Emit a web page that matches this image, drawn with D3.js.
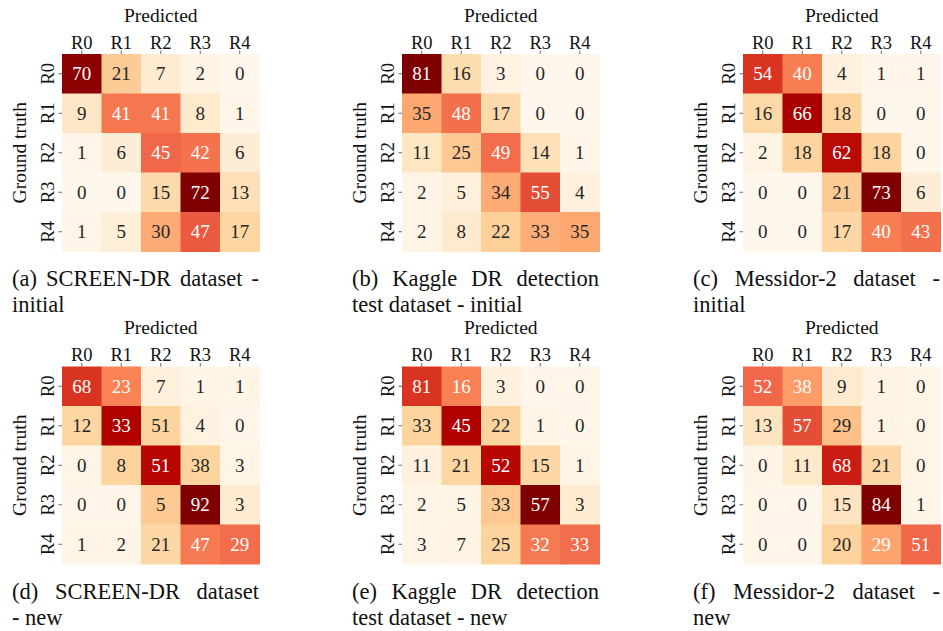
<!DOCTYPE html>
<html>
<head>
<meta charset="utf-8">
<script src="https://cdn.jsdelivr.net/npm/d3@7"></script>
<style>
  html, body { margin: 0; padding: 0; background: #ffffff; }
  svg { display: block; }
</style>
</head>
<body>
<svg id="chart" width="943" height="631"></svg>
<script>
// ---------------- data ----------------
const categories = ["R0", "R1", "R2", "R3", "R4"];
const xAxisTitle = "Predicted";
const yAxisTitle = "Ground truth";

// Displayed values (percent) per panel, rows = ground truth, cols = predicted
const valuesA = [[70,21,7,2,0],[9,41,41,8,1],[1,6,45,42,6],[0,0,15,72,13],[1,5,30,47,17]];
const valuesB = [[81,16,3,0,0],[35,48,17,0,0],[11,25,49,14,1],[2,5,34,55,4],[2,8,22,33,35]];
const valuesC = [[54,40,4,1,1],[16,66,18,0,0],[2,18,62,18,0],[0,0,21,73,6],[0,0,17,40,43]];
const valuesD = [[68,23,7,1,1],[12,33,51,4,0],[0,8,51,38,3],[0,0,5,92,3],[1,2,21,47,29]];
const valuesE = [[81,16,3,0,0],[33,45,22,1,0],[11,21,52,15,1],[2,5,33,57,3],[3,7,25,32,33]];
const valuesF = [[52,38,9,1,0],[13,57,29,1,0],[0,11,68,21,0],[0,0,15,84,1],[0,0,20,29,51]];

// Cell colour intensity (0-100)
const shadeA = [[97,29,9,3,0],[13,57,57,11,1],[1,8,62,58,8],[0,0,21,100,18],[1,7,42,65,24]];
const shadeB = [[100,20,4,0,0],[43,59,21,0,0],[14,31,60,17,1],[2,6,42,68,5],[2,10,27,41,43]];
const shadeC = [[74,55,5,1,1],[22,90,25,0,0],[3,25,85,25,0],[0,0,29,100,8],[0,0,23,55,59]];
const shadeD = [[74,53,6,2,2],[24,88,25,4,1],[2,25,86,25,2],[1,1,30,100,9],[2,2,23,56,60]];
const shadeE = [[74,54,5,1,1],[25,88,25,2,1],[5,24,86,23,2],[2,2,31,100,9],[2,3,25,56,60]];
const shadeF = [[62,46,10,3,2],[15,68,35,3,2],[2,12,80,23,2],[1,1,15,100,2],[1,1,26,44,62]];

const captionsLine1 = ["(a) SCREEN-DR dataset -", "(b) Kaggle DR detection", "(c) Messidor-2 dataset -",
                       "(d) SCREEN-DR dataset", "(e) Kaggle DR detection", "(f) Messidor-2 dataset -"];
const captionsLine2 = ["initial", "test dataset - initial", "initial", "- new", "test dataset - new", "new"];

const orRdStops = ["#fff7ec","#fee8c8","#fdd49e","#fdbb84","#fc8d59","#ef6548","#d7301f","#b30000","#7f0000"];

// ---------------- layout ----------------
const FONT = "Liberation Serif";
const panelLeft = [62, 402, 743];
const panelTop = [54, 366.5];
const side = 197.5;
const captionWidth = 247;

const panels = [
  {values: valuesA, shade: shadeA}, {values: valuesB, shade: shadeB}, {values: valuesC, shade: shadeC},
  {values: valuesD, shade: shadeD}, {values: valuesE, shade: shadeE}, {values: valuesF, shade: shadeF}
];

const color = d3.scaleLinear()
  .domain(d3.range(orRdStops.length).map(i => i * 100 / (orRdStops.length - 1)))
  .range(orRdStops)
  .interpolate(d3.interpolateRgb)
  .clamp(true);

const svg = d3.select("#chart");

panels.forEach((p, idx) => {
  const col = idx % 3, row = Math.floor(idx / 3);
  const x0 = panelLeft[col], y0 = panelTop[row];
  const x = d3.scaleBand().domain(categories).range([x0, x0 + side]);
  const y = d3.scaleBand().domain(categories).range([y0, y0 + side]);
  const g = svg.append("g");

  const cells = [];
  p.values.forEach((r, i) => r.forEach((v, j) => cells.push({
    gt: categories[i], pr: categories[j], v: v, s: p.shade[i][j]
  })));

  g.selectAll("rect.cell").data(cells).enter().append("rect")
    .attr("class", "cell")
    .attr("x", d => x(d.pr))
    .attr("y", d => y(d.gt))
    .attr("width", x.bandwidth() + 0.5)
    .attr("height", y.bandwidth() + 0.5)
    .attr("fill", d => color(d.s));

  g.selectAll("text.val").data(cells).enter().append("text")
    .attr("class", "val")
    .attr("x", d => x(d.pr) + x.bandwidth() / 2)
    .attr("y", d => y(d.gt) + y.bandwidth() / 2)
    .attr("dy", "0.35em")
    .attr("text-anchor", "middle")
    .style("font-family", FONT)
    .style("font-size", "19px")
    .attr("fill", d => d.s >= 44 ? "#ffffff" : "#262626")
    .text(d => d.v);

  // top axis
  const ax = g.append("g").attr("transform", `translate(0,${y0})`)
    .call(d3.axisTop(x).tickSize(3.5).tickPadding(2));
  ax.select(".domain").remove();
  ax.selectAll(".tick line").attr("stroke", "#444").attr("stroke-width", 0.8);
  ax.selectAll(".tick text").style("font-size", "18.5px").attr("fill", "#111")
    .style("font-family", FONT);

  // left axis
  const ay = g.append("g").attr("transform", `translate(${x0},0)`)
    .call(d3.axisLeft(y).tickSize(3.5));
  ay.select(".domain").remove();
  ay.selectAll(".tick line").attr("stroke", "#444").attr("stroke-width", 0.8);
  ay.selectAll(".tick text").style("font-size", "18.5px").attr("fill", "#111")
    .style("font-family", FONT)
    .attr("transform", "rotate(-90)")
    .attr("x", 0).attr("y", -8.5).attr("dy", 0)
    .attr("text-anchor", "middle");

  // axis titles
  g.append("text")
    .attr("x", x0 + side / 2).attr("y", y0 - 32.3)
    .attr("text-anchor", "middle")
    .style("font-family", FONT).style("font-size", "19.5px").attr("fill", "#111")
    .text(xAxisTitle);
  g.append("text")
    .attr("transform", `translate(${x0 - 36.5},${y0 + side / 2}) rotate(-90)`)
    .attr("text-anchor", "middle")
    .style("font-family", FONT).style("font-size", "19.5px").attr("fill", "#111")
    .text(yAxisTitle);

  // caption: justified first line, left-aligned second line
  const cx = x0 - 50;
  const words = captionsLine1[idx].split(" ");
  const wordNodes = words.map(w => g.append("text")
    .attr("y", y0 + 232)
    .style("font-family", FONT).style("font-size", "22.5px").attr("fill", "#111")
    .text(w));
  const widths = wordNodes.map(n => n.node().getComputedTextLength());
  const gap = (captionWidth - d3.sum(widths)) / (words.length - 1);
  let cur = cx;
  wordNodes.forEach((n, k) => { n.attr("x", cur); cur += widths[k] + gap; });

  g.append("text")
    .attr("x", cx).attr("y", y0 + 258)
    .style("font-family", FONT).style("font-size", "22.5px").attr("fill", "#111")
    .text(captionsLine2[idx]);
});
</script>
</body>
</html>
